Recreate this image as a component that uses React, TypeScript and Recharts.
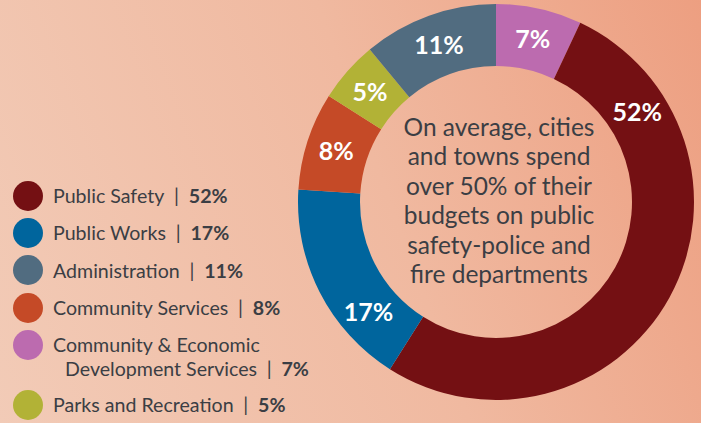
import { PieChart, Pie, Cell } from "recharts";

// shares of the municipal budget, clockwise from the top of the ring
const categories = [
  "Community & Economic Development Services",
  "Public Safety",
  "Public Works",
  "Community Services",
  "Parks and Recreation",
  "Administration",
];
const shares = [7, 52, 17, 8, 5, 11];
const colors = ["#bc6baf", "#741013", "#00659d", "#c54a27", "#b2b236", "#516c80"];

// legend order as printed on the left
const legendOrder = [
  "Public Safety",
  "Public Works",
  "Administration",
  "Community Services",
  "Community & Economic Development Services",
  "Parks and Recreation",
];

const centerLines = [
  "On average, cities",
  "and towns spend",
  "over 50% of their",
  "budgets on public",
  "safety-police and",
  "fire departments",
];

const data = categories.map((name, i) => ({ name, value: shares[i], color: colors[i] }));

const RADIAN = Math.PI / 180;
const TEXT = "#3b3e44";
const SEP = "\u2002|\u2002";

// a couple of labels sit nearer the start of their slice (degrees from start)
const labelNudge: Record<string, number> = { "Public Safety": 32, "Public Works": 17 };

function renderLabel(props: any) {
  const { cx, cy, midAngle, innerRadius, outerRadius, startAngle, name, value } = props;
  const nudge = labelNudge[name];
  const angle = nudge !== undefined ? startAngle - nudge : midAngle;
  const r = (innerRadius + outerRadius) / 2 + 1;
  const x = cx + r * Math.cos(-angle * RADIAN);
  const y = cy + r * Math.sin(-angle * RADIAN);
  return (
    <text
      x={x}
      y={y}
      fill="#ffffff"
      textAnchor="middle"
      dominantBaseline="central"
      style={{ fontFamily: "Lato, sans-serif", fontWeight: 700, fontSize: 25 }}
    >
      {value}%
    </text>
  );
}

function LegendBlock() {
  return (
    <div
      style={{
        position: "absolute",
        left: 13,
        top: 177,
        fontFamily: "Lato, sans-serif",
        color: TEXT,
        fontSize: 19.6,
      }}
    >
      {legendOrder.map((name) => {
        const i = categories.indexOf(name);
        const twoLines = name.startsWith("Community &");
        return (
          <div
            key={name}
            style={{
              display: "flex",
              alignItems: twoLines ? "flex-start" : "center",
              height: twoLines ? 60 : 37.3,
            }}
          >
            <div
              style={{
                width: 30,
                height: 30,
                borderRadius: "50%",
                background: colors[i],
                marginRight: 10,
                marginTop: twoLines ? 4 : 0,
                flexShrink: 0,
              }}
            />
            {twoLines ? (
              <div style={{ lineHeight: "24px", marginTop: 7 }}>
                <div>Community &amp; Economic</div>
                <div style={{ paddingLeft: 12 }}>
                  Development Services{SEP}<b>{shares[i]}%</b>
                </div>
              </div>
            ) : (
              <div>
                {name}{SEP}<b>{shares[i]}%</b>
              </div>
            )}
          </div>
        );
      })}
    </div>
  );
}

export default function App() {
  return (
    <div
      style={{
        position: "absolute",
        top: 0,
        left: 0,
        width: 701,
        height: 423,
        overflow: "hidden",
        background: "linear-gradient(70deg, #f2cbb7 0%, #f0b9a0 55%, #ed9f81 100%)",
      }}
    >
      <PieChart width={701} height={423} margin={{ top: 0, right: 0, bottom: 0, left: 0 }}>
        <Pie
          data={data}
          dataKey="value"
          nameKey="name"
          cx={496}
          cy={202}
          innerRadius={136}
          outerRadius={198}
          startAngle={90}
          endAngle={-270}
          stroke="none"
          label={renderLabel}
          labelLine={false}
          isAnimationActive={false}
        >
          {data.map((entry, index) => (
            <Cell key={`cell-${index}`} fill={entry.color} />
          ))}
        </Pie>
      </PieChart>
      <LegendBlock />
      <div
        style={{
          position: "absolute",
          left: 380,
          top: 112,
          width: 238,
          textAlign: "center",
          fontFamily: "Lato, sans-serif",
          fontSize: 24.5,
          lineHeight: "29.4px",
          color: TEXT,
        }}
      >
        {centerLines.map((l) => (
          <div key={l}>{l}</div>
        ))}
      </div>
    </div>
  );
}
